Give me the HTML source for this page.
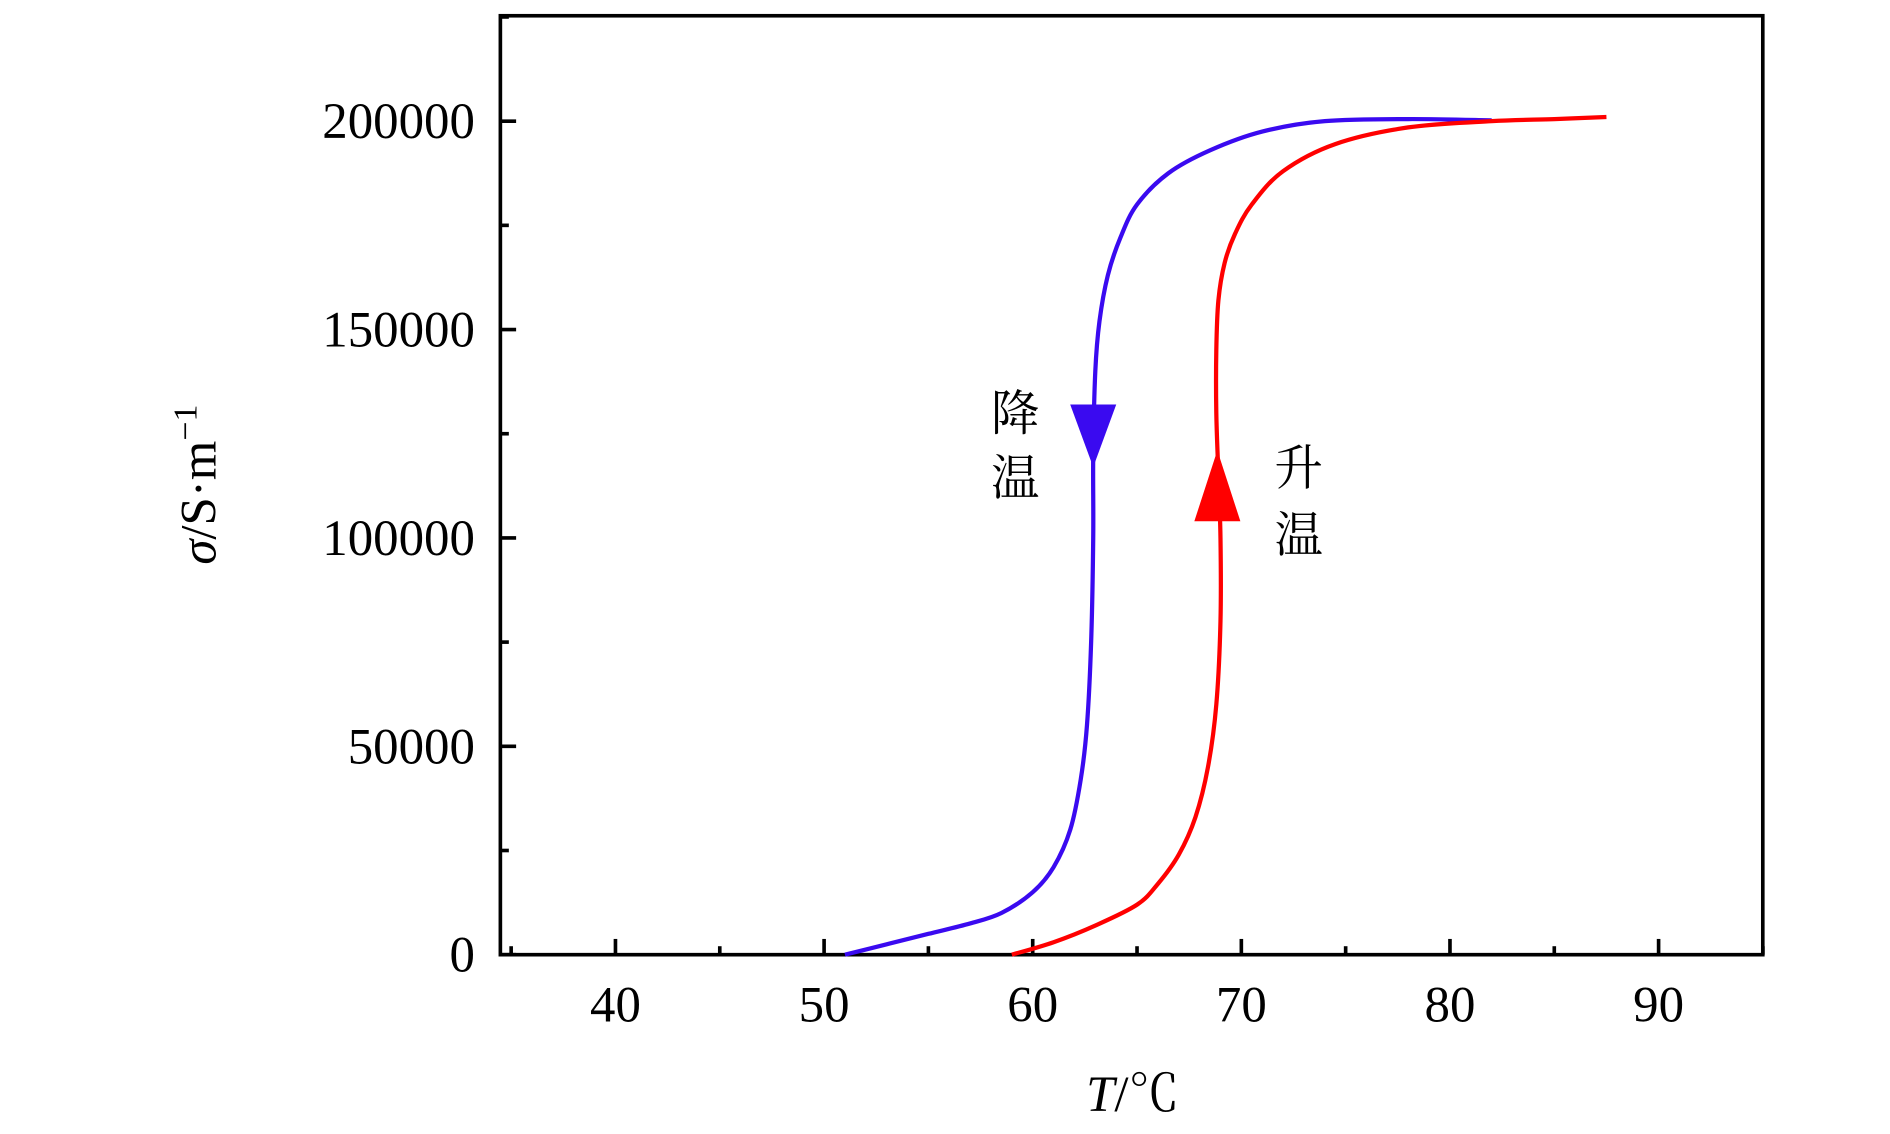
<!DOCTYPE html>
<html><head><meta charset="utf-8"><style>
html,body{margin:0;padding:0;background:#fff;}
svg{display:block;}
text{font-family:"Liberation Serif","Noto Serif CJK SC",serif;fill:#000;}
</style></head><body>
<svg id="chart" width="1890" height="1134" viewBox="0 0 1560 936" xmlns="http://www.w3.org/2000/svg">
<g id="axes"></g>
<g id="series"></g>
<text transform="translate(178,400) rotate(-90)" text-anchor="middle" font-size="42"><tspan font-style="italic">σ</tspan>/S·m<tspan font-size="28" dy="-16">−1</tspan></text>
<text x="935" y="917" text-anchor="middle" font-size="42"><tspan font-style="italic">T</tspan>/℃</text>
<text x="838" y="355" text-anchor="middle" font-size="40">降</text>
<text x="838" y="408" text-anchor="middle" font-size="40">温</text>
<text x="1072" y="400" text-anchor="middle" font-size="40">升</text>
<text x="1072" y="455" text-anchor="middle" font-size="40">温</text>
</svg>
<script>
const xTicks=[40,50,60,70,80,90];
const yTicks=[0,50000,100000,150000,200000];
const coolT=[51,53,55,57,58.5,60,61,61.8,62.3,62.6,62.8,62.9,62.9,63,63.2,63.6,64.2,65,66.5,68.5,71,74,78,82];
const coolS=[0,2500,5000,7500,10000,15000,21000,30000,42000,55000,75000,100000,120000,140000,152000,163000,172000,180000,187500,193000,197500,200000,200500,200200];
const heatT=[59,61,63,65,66,67,67.8,68.4,68.8,69,69,68.9,68.8,68.8,68.9,69.2,69.7,70.5,72,74.5,78,82,85,87.5];
const heatS=[0,3000,7000,12000,17000,24000,33000,45000,60000,80000,100000,115000,130000,145000,157000,166000,173000,180000,188000,194500,198500,200000,200500,201000];
const NS='http://www.w3.org/2000/svg';
const L=413,R=1455,T0=13,B=788;
function x(t){return 508+(t-40)*17.22;}
function y(s){return 788-s*688/200000;}
const axes=document.getElementById('axes');
const ser=document.getElementById('series');
function mk(tag,attrs,parent){const e=document.createElementNS(NS,tag);for(const k in attrs)e.setAttribute(k,attrs[k]);parent.appendChild(e);return e;}
const frame=mk('rect',{x:L,y:T0,width:R-L,height:B-T0,fill:'none',stroke:'#000','stroke-width':3},axes);


for(let t=35;t<=95;t+=5){const major=t%10===0;const tk=mk('line',{x1:x(t),x2:x(t),y1:B,y2:B-(major?13:7),stroke:'#000','stroke-width':3},axes);

}
xTicks.forEach(v=>{const tx=mk('text',{x:x(v),y:843,'text-anchor':'middle','font-size':42},axes);tx.textContent=v;

});
for(let s=0;s<=225000;s+=25000){const major=s%50000===0;const tk=mk('line',{x1:L,x2:L+(major?13:7),y1:y(s),y2:y(s),stroke:'#000','stroke-width':3},axes);

}
yTicks.forEach(v=>{const tx=mk('text',{x:392,y:y(v)+14,'text-anchor':'end','font-size':42},axes);tx.textContent=v;

});
function smooth(pts){let d='M'+pts[0][0]+','+pts[0][1];for(let i=0;i<pts.length-1;i++){const p0=pts[Math.max(0,i-1)],p1=pts[i],p2=pts[i+1],p3=pts[Math.min(pts.length-1,i+2)];
const c1=[p1[0]+(p2[0]-p0[0])/6,p1[1]+(p2[1]-p0[1])/6],c2=[p2[0]-(p3[0]-p1[0])/6,p2[1]-(p3[1]-p1[1])/6];d+=' C'+c1+' '+c2+' '+p2;}return d;}
const bp=coolT.map((t,i)=>[x(t),y(coolS[i])]);
const rp=heatT.map((t,i)=>[x(t),y(heatS[i])]);
const blue=mk('path',{d:smooth(bp),fill:'none',stroke:'#3a0af0','stroke-width':3.5},ser);


const red=mk('path',{d:smooth(rp),fill:'none',stroke:'#ff0000','stroke-width':3.5},ser);


const bx=x(62.9);
const ba=mk('polygon',{points:`${bx-19},${y(132000)} ${bx+19},${y(132000)} ${bx},${y(117000)}`,fill:'#3a0af0'},ser);


const rx=x(68.85);
const ra=mk('polygon',{points:`${rx-19},${y(104000)} ${rx+19},${y(104000)} ${rx},${y(121000)}`,fill:'#ff0000'},ser);


</script>
</body></html>
